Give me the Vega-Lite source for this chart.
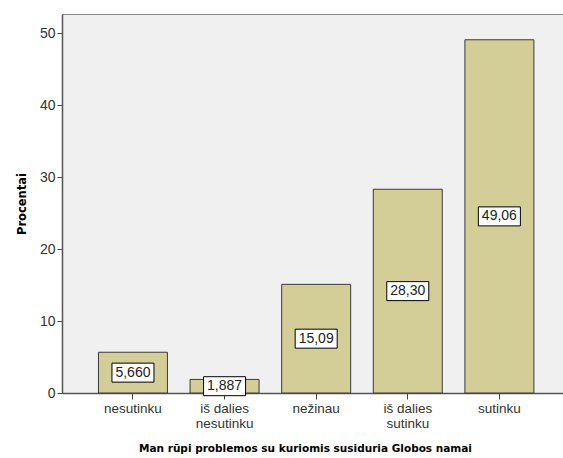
{
  "$schema": "https://vega.github.io/schema/vega-lite/v6.json",
  "autosize": {"type": "none"},
  "padding": {"left": 62, "top": 14, "right": 0, "bottom": 65},
  "width": 501,
  "height": 379,
  "background": "white",
  "config": {
    "view": {"fill": "#F0F0F0", "stroke": "#8C8C8C", "strokeWidth": 1},
    "font": "Liberation Sans"
  },
  "data": {
    "values": [
      {"category": "nesutinku", "value": 5.660, "label": "5,660"},
      {"category": "iš dalies\nnesutinku", "value": 1.887, "label": "1,887"},
      {"category": "nežinau", "value": 15.09, "label": "15,09"},
      {"category": "iš dalies\nsutinku", "value": 28.30, "label": "28,30"},
      {"category": "sutinku", "value": 49.06, "label": "49,06"}
    ]
  },
  "encoding": {
    "x": {
      "field": "category",
      "type": "nominal",
      "sort": null,
      "scale": {"paddingInner": 0.247, "paddingOuter": 0.358, "align": 0.556},
      "axis": {
        "title": "Man rūpi problemos su kuriomis susiduria Globos namai",
        "titleFont": "DejaVu Sans",
        "titleFontWeight": "bold",
        "titleFontSize": 10.5,
        "titleColor": "#000000",
        "titleX": 243,
        "titlePadding": 14,
        "labelExpr": "split(datum.label, '\\n')",
        "labelAngle": 0,
        "labelFontSize": 13.5,
        "labelColor": "#333333",
        "labelPadding": 2,
        "labelLineHeight": 15,
        "tickSize": 6,
        "tickColor": "#444444",
        "domainColor": "#555555",
        "domainWidth": 1.5
      }
    }
  },
  "layer": [
    {
      "mark": {"type": "bar", "fill": "#D3CE97", "stroke": "#3A3A3A", "strokeWidth": 1},
      "encoding": {
        "y": {
          "field": "value",
          "type": "quantitative",
          "scale": {"domain": [0, 52.64], "nice": false},
          "axis": {
            "title": "Procentai",
            "titleFont": "DejaVu Sans",
            "titleFontWeight": "bold",
            "titleFontSize": 11.5,
            "titleColor": "#000000",
            "titlePadding": 12,
            "values": [0, 10, 20, 30, 40, 50],
            "grid": false,
            "labelFontSize": 14,
            "labelColor": "#333333",
            "labelPadding": 2,
            "tickSize": 5,
            "tickColor": "#444444",
            "domainColor": "#555555",
            "domainWidth": 1.5
          }
        }
      }
    },
    {
      "mark": {"type": "point", "shape": "M-1,-0.452H1V0.452H-1Z", "size": 1764, "filled": true, "fill": "white", "stroke": "#000000", "strokeWidth": 1, "opacity": 1},
      "encoding": {
        "y": {"field": "mid", "type": "quantitative"}
      },
      "transform": [{"calculate": "datum.value / 2", "as": "mid"}]
    },
    {
      "mark": {"type": "text", "fontSize": 14, "color": "#222222", "baseline": "middle"},
      "encoding": {
        "y": {"field": "mid", "type": "quantitative"},
        "text": {"field": "label"}
      },
      "transform": [{"calculate": "datum.value / 2", "as": "mid"}]
    }
  ]
}
